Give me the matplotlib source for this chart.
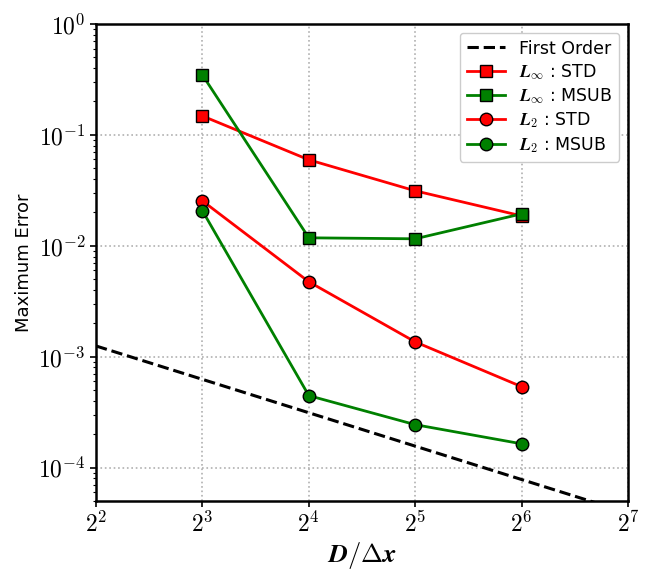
import numpy as np
import matplotlib
matplotlib.use("Agg")
import matplotlib.pyplot as plt
from matplotlib.ticker import LogLocator, FixedLocator, FixedFormatter, FuncFormatter

plt.rcParams['mathtext.fontset'] = 'cm'
plt.rcParams['font.family'] = ['DejaVu Sans']

x = [8, 16, 32, 64]
linf_std = [0.148, 0.0596, 0.0313, 0.0186]
linf_msub = [0.347, 0.0118, 0.01156, 0.0194]
l2_std = [0.0254, 0.00474, 0.00136, 0.000537]
l2_msub = [0.0207, 0.000446, 0.000244, 0.000164]
fo_x = [4, 128]
fo_y = [5e-3 / 4, 5e-3 / 128]
xticks = [4, 8, 16, 32, 64, 128]
xtick_labels = [r'$\mathbf{2^{2}}$', r'$\mathbf{2^{3}}$', r'$\mathbf{2^{4}}$',
                r'$\mathbf{2^{5}}$', r'$\mathbf{2^{6}}$', r'$\mathbf{2^{7}}$']

fig = plt.figure(figsize=(6.64, 5.7), dpi=100)
ax = fig.add_axes([0.1446, 0.121, 0.8012, 0.837])

ax.plot(fo_x, fo_y, 'k--', lw=2.2, label='First Order')
ax.plot(x, linf_std, '-s', color='red', mfc='red', mec='black', ms=9, lw=2, label=r'$\mathbfit{L}_{\boldsymbol{\infty}}$ : STD')
ax.plot(x, linf_msub, '-s', color='green', mfc='green', mec='black', ms=9, lw=2, label=r'$\mathbfit{L}_{\boldsymbol{\infty}}$ : MSUB')
ax.plot(x, l2_std, '-o', color='red', mfc='red', mec='black', ms=9, lw=2, label=r'$\mathbfit{L}_{\mathbf{2}}$ : STD')
ax.plot(x, l2_msub, '-o', color='green', mfc='green', mec='black', ms=9, lw=2, label=r'$\mathbfit{L}_{\mathbf{2}}$ : MSUB')

ax.set_xscale('log', base=2)
ax.set_yscale('log')
ax.set_xlim(4, 128)
ax.set_ylim(5e-5, 1)
ax.xaxis.set_major_locator(FixedLocator(xticks))
ax.xaxis.set_major_formatter(FixedFormatter(xtick_labels))
ax.xaxis.set_minor_locator(FixedLocator([]))
ax.yaxis.set_major_locator(LogLocator(base=10, numticks=10))
ax.yaxis.set_major_formatter(FuncFormatter(lambda v, p: r'$\mathbf{10^{%d}}$' % int(round(np.log10(v)))))
ax.tick_params(axis='both', which='major', labelsize=17, width=1.2, length=4)
ax.tick_params(axis='y', which='minor', width=0.8, length=2.5)
for s in ax.spines.values():
    s.set_linewidth(1.8)

ax.grid(True, which='major', linestyle=':', color='#b0b0b0', lw=1.2)
ax.set_xlabel(r'$\boldsymbol{D/\Delta x}$', fontsize=19, labelpad=2)
ax.set_ylabel('Maximum Error', fontsize=13)

leg = ax.legend(loc='upper right', fontsize=12.5, framealpha=1.0, edgecolor='#cccccc',
                handlelength=2.2, labelspacing=0.25)

fig.savefig('out.png', dpi=100)
